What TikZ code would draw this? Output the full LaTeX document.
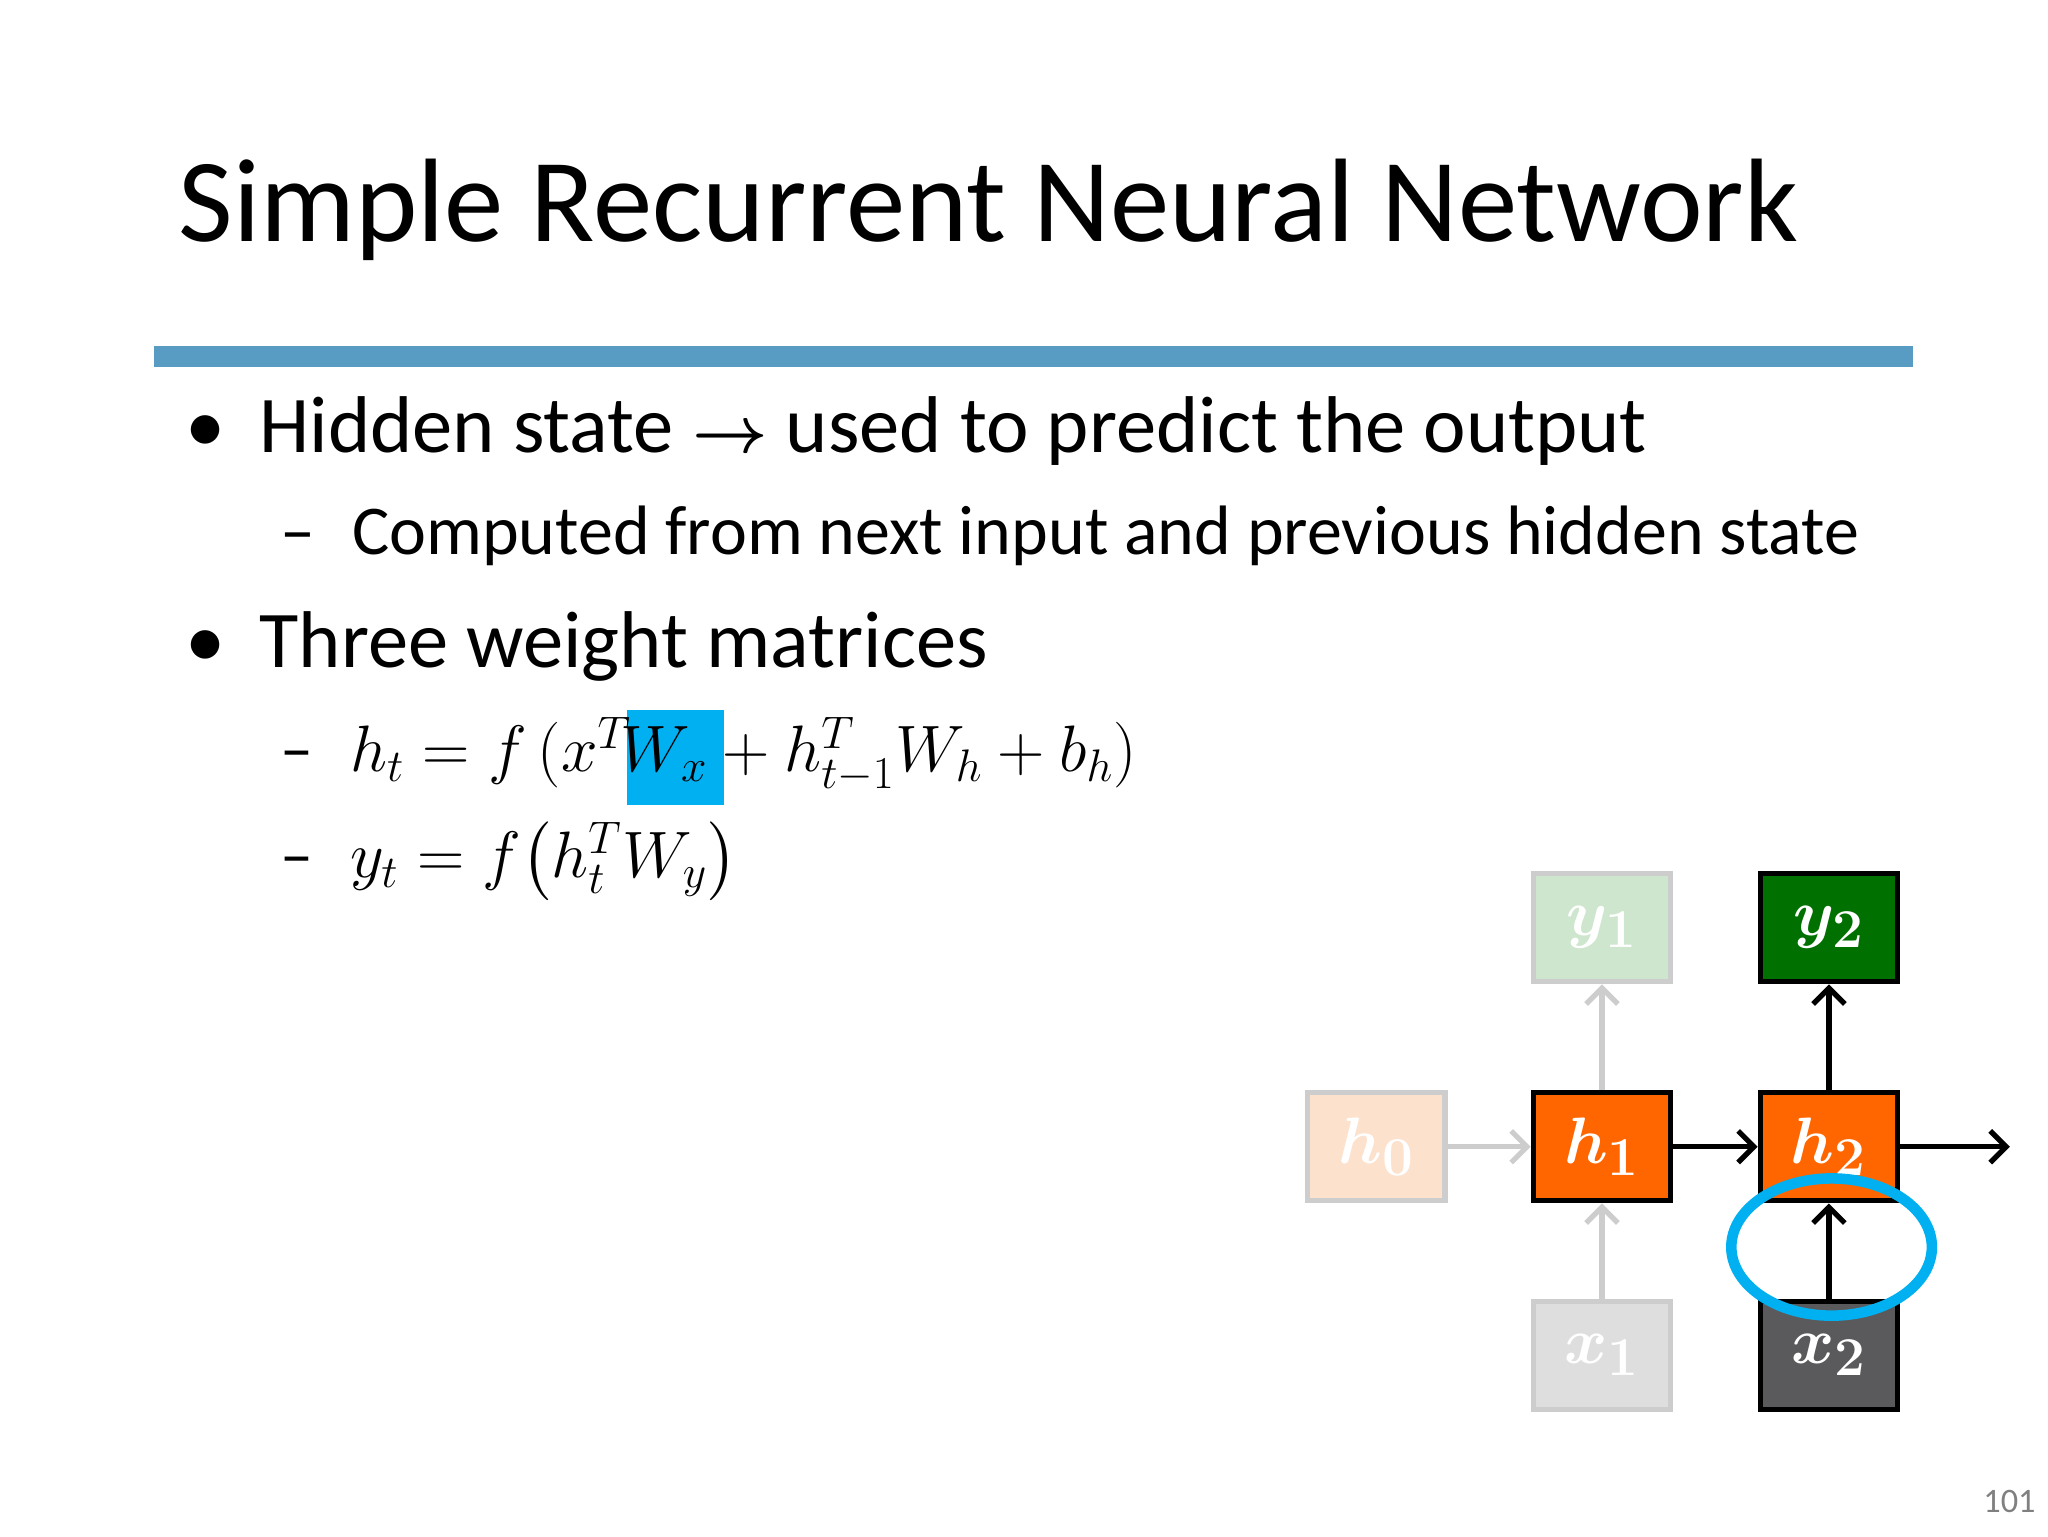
\documentclass[tikz,border=0pt]{standalone}
\usepackage{fontspec}
\usepackage{amsmath}
\setmainfont{Carlito}
\usetikzlibrary{positioning}
\definecolor{barblue}{RGB}{88,155,195}
\definecolor{hlcyan}{RGB}{0,176,240}
\definecolor{hor}{RGB}{255,102,0}
\definecolor{hfade}{RGB}{252,225,205}
\definecolor{yfade}{RGB}{205,230,205}
\definecolor{ydark}{RGB}{0,112,0}
\definecolor{xfade}{RGB}{222,222,222}
\definecolor{xdark}{RGB}{90,90,92}
\definecolor{fadeline}{RGB}{205,205,205}
\tikzset{
  cell/.style={draw=black,line width=2pt,minimum width=52pt,minimum height=41pt,inner sep=0pt,text=white,font=\fontsize{28}{28}\selectfont},
  fadecell/.style={cell,draw=fadeline},
  arr/.style={->,line width=2pt,>={Straight Barb[length=6pt,width=12pt,line width=2pt]}},
  fadearr/.style={arr,draw=fadeline}
}
\usetikzlibrary{arrows.meta}
\begin{document}
\begin{tikzpicture}[x=0.5pt,y=-0.5pt]
\useasboundingbox (0,0) rectangle (1552,1164);
% title and bar
\node[anchor=base west,inner sep=0pt,font=\fontsize{45}{45}\selectfont] (title) at (135,183) {Simple Recurrent Neural Network};
\fill[barblue] (117,262) rectangle (1450,278);
% bullets
\node[anchor=base west,inner sep=0pt,font=\fontsize{30.5}{30.5}\selectfont] (b1) at (140,343) {\textbullet\hspace{13pt}Hidden state $\boldsymbol{\rightarrow}$ used to predict the output};
\node[anchor=base west,inner sep=0pt,font=\fontsize{26.5}{26.5}\selectfont] (s1) at (212,420) {–\hspace{14pt}Computed from next input and previous hidden state};
\node[anchor=base west,inner sep=0pt,font=\fontsize{30.5}{30.5}\selectfont] (b2) at (140,506) {\textbullet\hspace{13pt}Three weight matrices};
\fill[hlcyan] (475,538) rectangle (549,610);
\node[anchor=base west,inner sep=0pt,font=\fontsize{25}{25}\selectfont] (s2) at (212,585) {–\hspace{14pt}$h_t = f\,(x^T\!W_x + h_{t-1}^T W_h + b_h)$};
\node[anchor=base west,inner sep=0pt,font=\fontsize{25}{25}\selectfont] (s3) at (212,665) {–\hspace{14pt}$y_t = f\bigl(h_t^T W_y\bigr)$};
% network
\node[fadecell,fill=hfade] (h0) at (1043,869) {$\boldsymbol{h_0}$};
\node[cell,fill=hor] (h1) at (1214,869) {$\boldsymbol{h_1}$};
\node[cell,fill=hor] (h2) at (1386,869) {$\boldsymbol{h_2}$};
\node[fadecell,fill=yfade] (y1) at (1214,703) {$\boldsymbol{y_1}$};
\node[cell,fill=ydark] (y2) at (1386,703) {$\boldsymbol{y_2}$};
\node[fadecell,fill=xfade] (x1) at (1214,1027) {$\boldsymbol{x_1}$};
\node[cell,fill=xdark] (x2) at (1386,1027) {$\boldsymbol{x_2}$};
\coordinate (hout) at (1523,869);
\draw[fadearr] (h0) -- (h1);
\draw[fadearr] (h1) -- (y1);
\draw[fadearr] (x1) -- (h1);
\draw[arr] (h1) -- (h2);
\draw[arr] (h2) -- (y2);
\draw[arr] (x2) -- (h2);
\draw[arr] (h2) -- (hout);
\draw[hlcyan,line width=4pt] (1388,945) ellipse (38pt and 26pt);
\node[anchor=base east,inner sep=0pt,text=gray,font=\fontsize{13}{13}\selectfont] (pg) at (1543,1146) {101};
\end{tikzpicture}
\end{document}
